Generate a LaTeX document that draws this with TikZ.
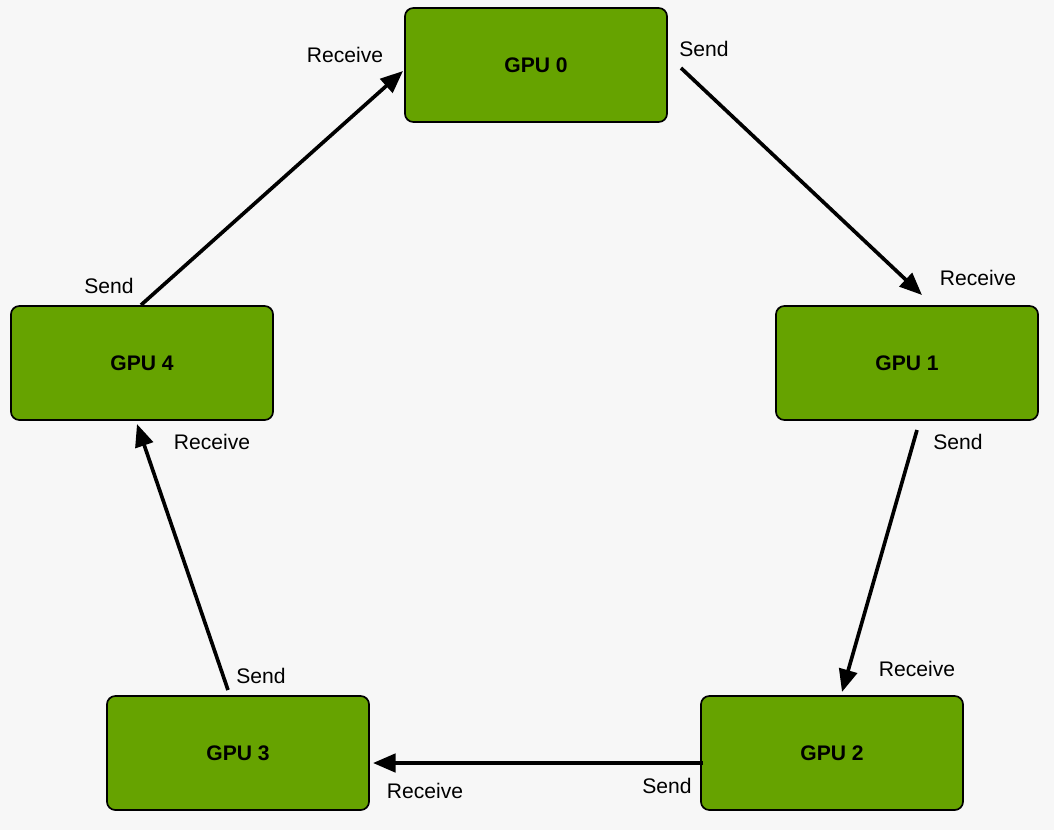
\documentclass[tikz,border=0pt]{standalone}
\usepackage{fontspec}
\setmainfont{Liberation Sans}
\usetikzlibrary{arrows.meta}
\definecolor{gpugreen}{HTML}{66A300}
\definecolor{paper}{HTML}{F7F7F7}
\tikzset{
  gpu/.style={draw=black, line width=1.2pt, fill=gpugreen, rounded corners=6pt,
    minimum width=6.55cm, minimum height=2.85cm, font=\fontsize{15}{18}\selectfont\bfseries},
  link/.style={line width=2.6pt, -{Triangle[length=16pt,width=13pt]}},
  tag/.style={font=\fontsize{15}{18}\selectfont}
}
\begin{document}
\begin{tikzpicture}[x=0.025cm, y=-0.025cm]
    \useasboundingbox (0,0) rectangle (1054,836);
    \fill[paper] (0,0) rectangle (1054,830);
    % GPU boxes in a ring
    \node[gpu] (g0) at (536,65) {GPU 0};
    \node[gpu] (g1) at (907,363) {GPU 1};
    \node[gpu] (g2) at (832,753) {GPU 2};
    \node[gpu] (g3) at (238,753) {GPU 3};
    \node[gpu] (g4) at (142,363) {GPU 4};

    % arrow ends
    \coordinate (s0) at (681,68);  \coordinate (r1) at (922,295);
    \coordinate (s1) at (917,430); \coordinate (r2) at (842,692);
    \coordinate (s2) at (703,763); \coordinate (r3) at (373,763);
    \coordinate (s3) at (228,690); \coordinate (r4) at (137,424);
    \coordinate (s4) at (141,305); \coordinate (r0) at (403,71);

    \draw[link] (s0) -- (r1);
    \draw[link] (s1) -- (r2);
    \draw[link] (s2) -- (r3);
    \draw[link] (s3) -- (r4);
    \draw[link] (s4) -- (r0);

    % labels
    \node[tag] (t0r) at (345,55) {Receive};
    \node[tag] (t0s) at (704,49) {Send};
    \node[tag] (t1r) at (978,278) {Receive};
    \node[tag] (t1s) at (958,442) {Send};
    \node[tag] (t2r) at (917,669) {Receive};
    \node[tag] (t2s) at (667,786) {Send};
    \node[tag] (t3r) at (425,791) {Receive};
    \node[tag] (t3s) at (261,676) {Send};
    \node[tag] (t4r) at (212,442) {Receive};
    \node[tag] (t4s) at (109,286) {Send};
\end{tikzpicture}
\end{document}
